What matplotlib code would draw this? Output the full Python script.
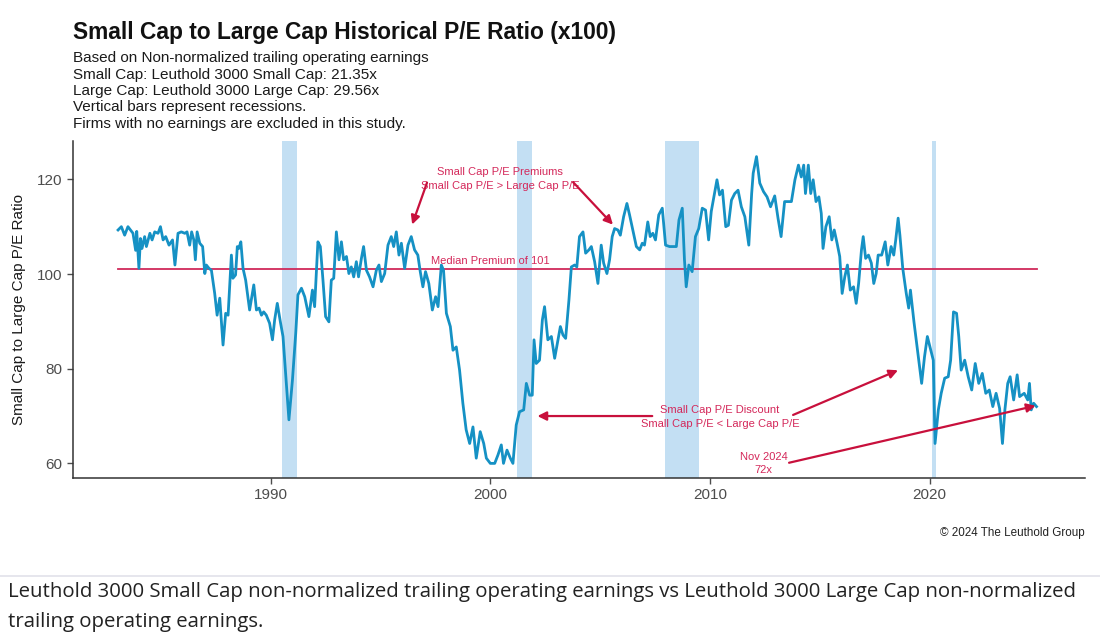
import matplotlib
matplotlib.use("Agg")
import matplotlib.pyplot as plt
import numpy as np

plt.rcParams['font.family'] = ['Liberation Sans', 'DejaVu Sans']

# small cap / large cap P/E ratio (x100)
years = [
    1983.05, 1983.2, 1983.35, 1983.5, 1983.73, 1983.85, 1983.9, 1984.0, 1984.07, 1984.14,
    1984.26, 1984.34, 1984.5, 1984.6, 1984.72, 1984.87, 1984.98, 1985.1, 1985.22, 1985.37,
    1985.53, 1985.64, 1985.78, 1985.93, 1986.09, 1986.19, 1986.31, 1986.4, 1986.5, 1986.57,
    1986.65, 1986.77, 1986.9, 1987.0, 1987.07, 1987.19, 1987.3, 1987.45, 1987.56, 1987.68,
    1987.83, 1987.95, 1988.06, 1988.21, 1988.28, 1988.4, 1988.48, 1988.55, 1988.64, 1988.74,
    1988.86, 1988.97, 1989.04, 1989.23, 1989.35, 1989.47, 1989.58, 1989.68, 1989.8, 1989.95,
    1990.08, 1990.18, 1990.3, 1990.44, 1990.56, 1990.68, 1990.83, 1990.99, 1991.14, 1991.24,
    1991.4, 1991.55, 1991.74, 1991.9, 1992.0, 1992.15, 1992.26, 1992.38, 1992.5, 1992.65,
    1992.76, 1992.87, 1992.99, 1993.11, 1993.22, 1993.32, 1993.45, 1993.56, 1993.67, 1993.78,
    1993.9, 1994.0, 1994.13, 1994.23, 1994.36, 1994.5, 1994.66, 1994.81, 1994.93, 1995.04,
    1995.19, 1995.34, 1995.49, 1995.6, 1995.72, 1995.84, 1995.95, 1996.1, 1996.25, 1996.4,
    1996.55, 1996.7, 1996.81, 1996.93, 1997.05, 1997.2, 1997.36, 1997.51, 1997.62, 1997.77,
    1997.87, 1998.0, 1998.18, 1998.3, 1998.45, 1998.6, 1998.75, 1998.9, 1999.06, 1999.21,
    1999.36, 1999.54, 1999.7, 1999.82, 2000.0, 2000.2, 2000.35, 2000.5, 2000.6, 2000.76,
    2000.91, 2001.03, 2001.18, 2001.33, 2001.52, 2001.64, 2001.79, 2001.91, 2001.99, 2002.09,
    2002.24, 2002.37, 2002.47, 2002.62, 2002.78, 2002.93, 2003.19, 2003.31, 2003.43, 2003.58,
    2003.69, 2003.84, 2003.94, 2004.06, 2004.22, 2004.34, 2004.49, 2004.6, 2004.75, 2004.9,
    2005.05, 2005.16, 2005.31, 2005.43, 2005.55, 2005.66, 2005.81, 2005.92, 2006.07, 2006.22,
    2006.34, 2006.49, 2006.65, 2006.8, 2006.92, 2007.02, 2007.17, 2007.28, 2007.4, 2007.52,
    2007.67, 2007.83, 2007.98, 2008.16, 2008.47, 2008.59, 2008.74, 2008.84, 2008.92, 2009.04,
    2009.19, 2009.34, 2009.49, 2009.65, 2009.8, 2009.94, 2010.06, 2010.21, 2010.32, 2010.44,
    2010.57, 2010.72, 2010.84, 2010.98, 2011.13, 2011.28, 2011.43, 2011.59, 2011.77, 2011.9,
    2011.97, 2012.12, 2012.27, 2012.44, 2012.6, 2012.76, 2012.95, 2013.1, 2013.24, 2013.4,
    2013.71, 2013.87, 2014.03, 2014.16, 2014.27, 2014.35, 2014.48, 2014.59, 2014.7, 2014.83,
    2014.96, 2015.07, 2015.15, 2015.28, 2015.43, 2015.55, 2015.66, 2015.79, 2015.91, 2016.02,
    2016.14, 2016.26, 2016.39, 2016.54, 2016.66, 2016.77, 2016.9, 2016.98, 2017.09, 2017.22,
    2017.35, 2017.46, 2017.57, 2017.66, 2017.82, 2017.98, 2018.1, 2018.25, 2018.37, 2018.46,
    2018.57, 2018.65, 2018.78, 2018.94, 2019.05, 2019.13, 2019.29, 2019.45, 2019.64, 2019.77,
    2019.9, 2020.05, 2020.17, 2020.25, 2020.4, 2020.53, 2020.69, 2020.85, 2020.96, 2021.09,
    2021.23, 2021.33, 2021.44, 2021.6, 2021.76, 2021.92, 2022.08, 2022.24, 2022.4, 2022.56,
    2022.72, 2022.88, 2023.03, 2023.19, 2023.32, 2023.43, 2023.56, 2023.67, 2023.83, 2023.99,
    2024.1, 2024.31, 2024.47, 2024.55, 2024.63, 2024.74, 2024.87,
]
ratio = [
    109.3, 110, 108.2, 110, 108.6, 105, 109, 101.2, 107.5, 105.4,
    107.9, 105.8, 108.6, 107.2, 108.9, 108.6, 110, 107.2, 107.9, 106.1,
    107.2, 101.9, 108.6, 108.9, 108.6, 108.9, 106.1, 108.9, 107.2, 103,
    108.9, 106.5, 105.8, 100.1, 101.9, 101.2, 100.8, 95.9, 91.3, 94.9,
    85, 91.7, 91.3, 104, 99.1, 99.8, 105.8, 105.4, 106.8, 101.2,
    98.7, 94.9, 92.4, 97.7, 92.4, 92.8, 91.3, 92, 91.3, 89.6,
    86.1, 90.3, 93.8, 89.9, 86.8, 79, 69.2, 77.6, 87.5, 95.6,
    97, 95.2, 91, 96.6, 93.1, 106.8, 105.8, 98.7, 91, 89.9,
    98.7, 99.1, 108.9, 103, 106.8, 103, 103.7, 100.1, 101.5, 99.4,
    102.6, 99.4, 103.3, 105.8, 100.8, 99.4, 97.3, 100.8, 101.9, 98.4,
    100.1, 106.1, 107.9, 105.8, 108.9, 104, 106.5, 101.2, 106.1, 107.9,
    105.1, 104, 100.5, 97.3, 100.5, 98, 92.4, 95.2, 93.1, 101.9,
    100.8, 91.7, 88.9, 83.9, 84.6, 79.7, 72.7, 67.1, 64.2, 67.7,
    61.1, 66.7, 64.2, 61.1, 60, 60, 61.8, 63.9, 60, 62.8,
    61.1, 60, 68.1, 70.9, 71.3, 76.9, 74.4, 74.4, 86.1, 81.1,
    81.8, 90.3, 93.1, 86.1, 86.8, 82.2, 88.9, 87.1, 86.4, 94.5,
    101.5, 101.9, 101.5, 107.9, 108.9, 104.4, 105.1, 105.8, 102.6, 98,
    106.1, 102.3, 100.1, 103, 107.9, 109.6, 109.3, 108.2, 112.1, 114.9,
    112.5, 109.3, 105.8, 105.1, 106.5, 106.1, 111, 107.9, 108.6, 107.2,
    112.5, 113.9, 106.1, 105.8, 105.8, 111.4, 113.9, 103, 97.3, 101.9,
    100.5, 107.9, 109.6, 113.9, 113.5, 107.2, 113.2, 117, 119.9, 116.7,
    117.7, 110, 110.3, 115.6, 117, 117.7, 114.2, 112.1, 106.1, 117,
    121.3, 124.8, 119.2, 117.4, 116.3, 114.2, 116.5, 111.8, 107.9, 115.3,
    115.3, 119.9, 123, 120.5, 123, 117, 123, 117, 119.9, 115.3,
    116.3, 112.8, 105.4, 110, 112.1, 107.2, 109.3, 106.5, 103.7, 95.9,
    99.4, 101.9, 96.6, 97.3, 93.8, 98, 105.1, 107.9, 103.3, 104,
    102.3, 98, 100.1, 104, 104, 106.8, 101.9, 105.8, 104, 107.2,
    111.8, 108.2, 101.2, 95.9, 92.8, 96.6, 89.9, 84, 76.9, 82.5,
    86.8, 84, 81.8, 64.2, 71.3, 74.8, 78, 78.3, 81.8, 92,
    91.7, 86.8, 79.7, 81.8, 78.3, 75.5, 81.1, 76.9, 79, 74.8,
    75.5, 72, 74.8, 71.6, 64.2, 71.3, 76.9, 78.3, 73.4, 78.7,
    74.1, 74.8, 73.4, 76.9, 71.3, 72.7, 72,
]

median_premium = 101

# recessions (start, end)
rec_start = [1990.5, 2001.2, 2007.95, 2020.1]
rec_end = [1991.2, 2001.9, 2009.5, 2020.3]

xticks = [1990, 2000, 2010, 2020]
yticks = [60, 80, 100, 120]

blue = "#1591c4"
rec_col = "#c3dff3"
red_line = "#d02a5a"
red_arrow = "#c8103c"
red_text = "#d4285a"
grey_txt = "#4d4d4d"

fig = plt.figure(figsize=(11, 6.42), dpi=100)
ax = fig.add_axes([0.0664, 0.255, 0.92, 0.5254])

for s, e in zip(rec_start, rec_end):
    ax.axvspan(s, e, color=rec_col, lw=0, zorder=0)

ax.plot([years[0], years[-1]], [median_premium, median_premium], color=red_line, lw=1.3, zorder=2)
ax.plot(years, ratio, color=blue, lw=2.0, zorder=3, solid_joinstyle='round')

ax.set_xlim(1981.0, 2027.08)
ax.set_ylim(56.85, 128.1)
ax.set_xticks(xticks)
ax.set_yticks(yticks)
ax.tick_params(colors=grey_txt, labelsize=11, length=4, width=1.0)
ax.tick_params(axis='x', pad=3)
for side in ['top', 'right']:
    ax.spines[side].set_visible(False)
for side in ['left', 'bottom']:
    ax.spines[side].set_color("#333333")
    ax.spines[side].set_linewidth(1.1)
ax.set_ylabel("Small Cap to Large Cap P/E Ratio", fontsize=11, color="#1a1a1a", labelpad=8)

# annotations
ann = dict(ha='center', va='center', fontsize=8, color=red_text, linespacing=1.45)
arrow = dict(arrowstyle='-|>', color=red_arrow, lw=1.6, mutation_scale=13)

ax.text(2000.45, 120.1, "Small Cap P/E Premiums\nSmall Cap P/E > Large Cap P/E", **ann)
ax.annotate("", xy=(1996.4, 109.9), xytext=(1997.16, 119.85), arrowprops=arrow)
ax.annotate("", xy=(2005.67, 110.0), xytext=(2003.68, 119.85), arrowprops=arrow)

ax.text(2000.0, 102.8, "Median Premium of 101", **ann)

ax.text(2010.46, 69.8, "Small Cap P/E Discount\nSmall Cap P/E < Large Cap P/E", **ann)
ax.annotate("", xy=(2002.02, 70.0), xytext=(2007.5, 70.0), arrowprops=arrow)
ax.annotate("", xy=(2018.68, 79.9), xytext=(2013.67, 70.0), arrowprops=arrow)

ax.text(2012.44, 60.0, "Nov 2024\n72x", **ann)
ax.annotate("", xy=(2024.95, 72.3), xytext=(2013.48, 60.0), arrowprops=arrow)

# titles
fig.text(0.0664, 1 - 32 / 642, "Small Cap to Large Cap Historical P/E Ratio (x100)",
         fontsize=16.4, fontweight='bold', color="#111111", va='center', ha='left')
sub = ["Based on Non-normalized trailing operating earnings",
       "Small Cap: Leuthold 3000 Small Cap: 21.35x",
       "Large Cap: Leuthold 3000 Large Cap: 29.56x",
       "Vertical bars represent recessions.",
       "Firms with no earnings are excluded in this study."]
for i, line in enumerate(sub):
    fig.text(0.0664, 1 - (58 + 16.5 * i) / 642, line, fontsize=11, color="#1a1a1a",
             va='center', ha='left')

fig.text(1085 / 1100, 1 - 533 / 642, "\u00a9 2024 The Leuthold Group", fontsize=8.4,
         color="#222222", ha='right', va='center')

# caption below the chart
fig.add_artist(plt.Line2D([0, 1], [1 - 576 / 642, 1 - 576 / 642], color="#e2e2ea", lw=1.2))
cap_font = ['Open Sans', 'DejaVu Sans']
fig.text(8 / 1100, 1 - 592 / 642,
         "Leuthold 3000 Small Cap non-normalized trailing operating earnings vs Leuthold 3000 Large Cap non-normalized",
         fontsize=14.7, family=cap_font, color="#222222", ha='left', va='center')
fig.text(8 / 1100, 1 - 622 / 642, "trailing operating earnings.",
         fontsize=14.7, family=cap_font, color="#222222", ha='left', va='center')

fig.savefig("out.png", dpi=100)
